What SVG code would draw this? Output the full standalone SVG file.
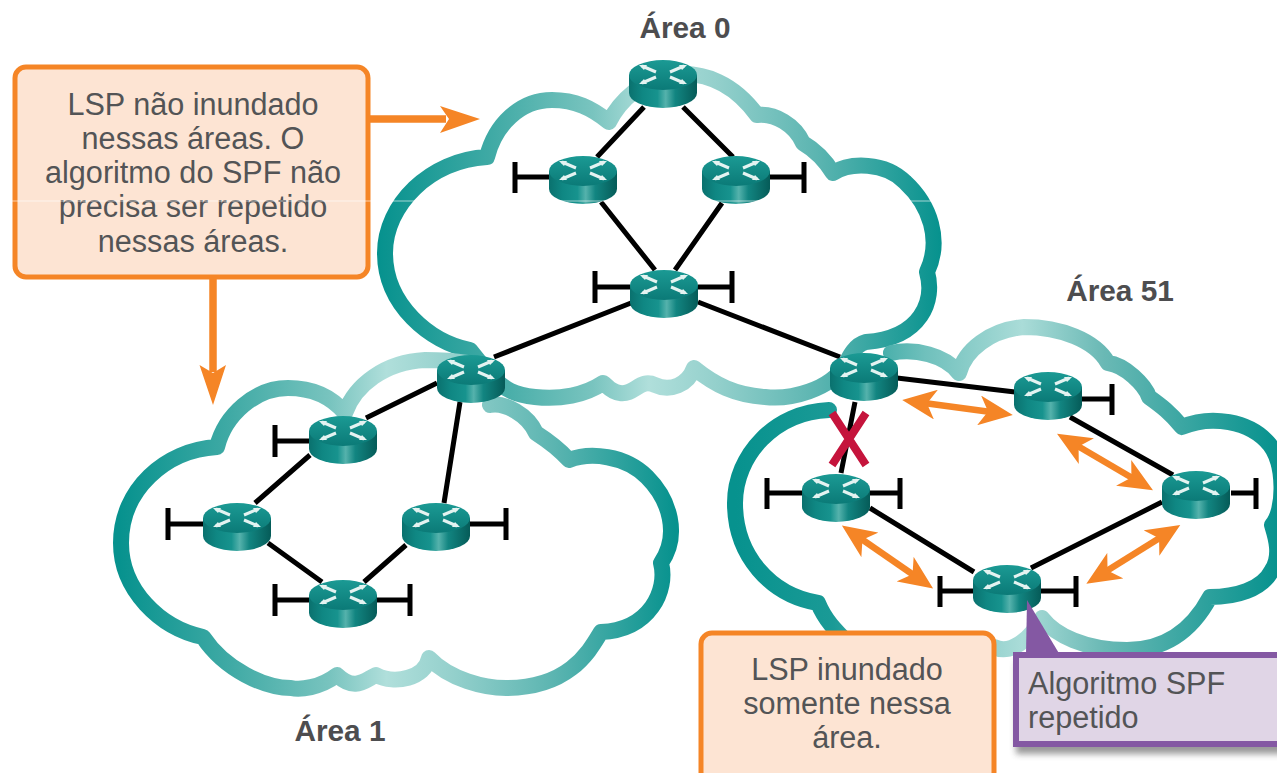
<svg xmlns="http://www.w3.org/2000/svg" xmlns:xlink="http://www.w3.org/1999/xlink" width="1277" height="773" viewBox="0 0 1277 773">
<style>
.cloud{fill:none;stroke-width:16;stroke-linecap:round;stroke-linejoin:round}
.link{stroke:#000;stroke-width:5;fill:none}
.stub{stroke:#000;stroke-width:5;fill:none}
.flood{stroke:#f58526;stroke-width:6.500;fill:none;marker-start:url(#barb);marker-end:url(#barb)}
.big{stroke:#f58526;stroke-width:7.500;fill:none}
.bigh{fill:#f58526}
.t{font-family:"Liberation Sans",Arial,sans-serif;font-size:30.600px;fill:#535456}
.c{text-anchor:middle}
.h{font-family:"Liberation Sans",Arial,sans-serif;font-size:29.800px;font-weight:bold;fill:#4d4d4f;text-anchor:middle}
.box{fill:#fde4d3;stroke:#f58526;stroke-width:5}
</style>
<defs>
<linearGradient id="g0" gradientUnits="userSpaceOnUse" x1="380" y1="0" x2="940" y2="0">
<stop offset="0" stop-color="#07928e"/><stop offset=".2" stop-color="#40aaa5"/><stop offset=".38" stop-color="#79c4bf"/><stop offset=".48" stop-color="#b0dfdb"/><stop offset=".6" stop-color="#94d0cc"/><stop offset=".78" stop-color="#5cb5b1"/><stop offset="1" stop-color="#07928e"/>
</linearGradient>
<linearGradient id="g1" gradientUnits="userSpaceOnUse" x1="120" y1="0" x2="675" y2="0">
<stop offset="0" stop-color="#07928e"/><stop offset=".2" stop-color="#40aaa5"/><stop offset=".38" stop-color="#79c4bf"/><stop offset=".48" stop-color="#b0dfdb"/><stop offset=".6" stop-color="#94d0cc"/><stop offset=".78" stop-color="#5cb5b1"/><stop offset="1" stop-color="#07928e"/>
</linearGradient>
<linearGradient id="g51" gradientUnits="userSpaceOnUse" x1="735" y1="0" x2="1277" y2="0">
<stop offset="0" stop-color="#07928e"/><stop offset=".18" stop-color="#1a9a96"/><stop offset=".35" stop-color="#6fc0bc"/><stop offset=".53" stop-color="#aadcd8"/><stop offset=".68" stop-color="#6ab9b5"/><stop offset=".86" stop-color="#30a29e"/><stop offset="1" stop-color="#07928e"/>
</linearGradient>
<linearGradient id="rb" x1="0" y1="0" x2="1" y2="0">
<stop offset="0" stop-color="#0a716e"/><stop offset=".2" stop-color="#0f8783"/><stop offset=".42" stop-color="#17938e"/><stop offset=".54" stop-color="#55b2ac"/><stop offset=".68" stop-color="#128581"/><stop offset="1" stop-color="#055b58"/>
</linearGradient>
<linearGradient id="rt" x1="0" y1="0" x2="0" y2="1">
<stop offset="0" stop-color="#1b9a94"/><stop offset="1" stop-color="#0b7a77"/>
</linearGradient>
<g id="router">
<path d="M-34 15V33A34 15 0 0 0 34 33V15Z" fill="url(#rb)"/>
<ellipse cx="0" cy="15" rx="34" ry="15" fill="url(#rt)"/>
<path d="M-21 6L-7 12M21 6L7 12M-21 23L-7 17M21 23L7 17" stroke="#e4f3f1" stroke-width="3" fill="none"/>
<path d="M-24 5L-16 5L-19 10ZM24 5L16 5L19 10ZM-24 24L-16 24L-19 19ZM24 24L16 24L19 19Z" fill="#e4f3f1"/>
</g>
<marker id="barb" markerUnits="userSpaceOnUse" markerWidth="34" markerHeight="30" viewBox="0 0 34 30" refX="12" refY="15" orient="auto-start-reverse">
<path d="M0 0L34 15L0 30L9 15Z" fill="#f58526"/>
</marker>
<filter id="sh" x="-10%" y="-20%" width="120%" height="150%"><feGaussianBlur stdDeviation="3"/></filter>
</defs>

<g id="clouds">
<path id="cloud-area-0" class="cloud" stroke="url(#g0)" d="M487 157C495 125 520 100 552 100C575 100 592 108 609 122C620 100 645 78 670 75C705 70 735 85 757 115C775 113 795 125 803 143C815 150 825 160 833 173C850 162 885 162 905 182C930 205 942 240 927 272C935 300 922 338 866 342C855 345 850 355 845 365C830 390 790 400 765 397C735 395 715 385 694 368C688 385 670 392 655 385C640 378 635 395 620 393C610 392 607 385 603 383C585 395 560 400 535 397C515 395 505 390 490 375L470 350C430 342 385 305 385 253C385 205 430 160 487 157Z"/>
<path id="cloud-area-1" class="cloud" stroke="url(#g1)" d="M217 447C225 415 255 388 288 388C310 388 330 395 345 413C355 385 385 362 425 360C440 360 455 361 467 363M490 405C505 402 528 415 536 433C550 442 560 450 569 460C590 452 625 455 647 477C670 500 680 535 661 563C668 590 650 630 601 632C590 650 570 688 506 688C485 688 450 680 429 658C425 678 395 685 376 675C365 680 355 692 337 675C320 688 300 690 291 688C265 688 225 670 203 637C160 628 121 590 121 543C121 490 165 450 217 447"/>
<path id="cloud-area-51" class="cloud" stroke="url(#g51)" d="M829 410C775 412 735 455 735 503C735 555 770 595 818 603C825 620 835 630 850 645M994 647C1010 655 1030 640 1042 618C1055 635 1085 650 1127 650C1170 650 1195 625 1210 597C1235 597 1262 590 1272 570C1282 555 1275 535 1272 525C1285 510 1285 465 1270 445C1250 420 1210 415 1182 427C1170 412 1160 405 1149 397C1145 385 1125 365 1108 363C1095 340 1060 327 1024 327C990 330 965 350 959 373C945 355 915 348 891 353"/>
</g>

<g id="connectors">
<path class="link" d="M644 107L597 157M683 107L733 157M601 202L655 270M722 203L675 270M631 303L494 357M698 302L840 357"/>
<path class="link" d="M437 383L366 418M310 455L255 503M268 543L322 582M364 582L406 545M460 402L444 503"/>
<path class="link" d="M897 378L1015 392M855 402L841 473M870 508L974 572M1031 568L1162 502M1070 417L1173 475"/>
<path class="stub" d="M515 162V193M515 177H549M804 162V193M804 177H770M595 271V303M595 287H630M732 271V303M732 287H698"/>
<path class="stub" d="M275 425V457M275 441H309M168 508V540M168 524H203M506 508V540M506 524H470M275 584V616M275 600H309M410 584V616M410 600H377"/>
<path class="stub" d="M1112 384V415M1112 399H1082M767 478V509M767 493H802M900 478V509M900 493H870M1256 478V509M1256 493H1231M940 576V607M940 591H973M1076 576V607M1076 591H1041"/>
<path class="flood" d="M924 403L991 412"/>
<path class="flood" d="M1076 445L1134 479"/>
<path class="flood" d="M1161.600 536.700L1105 572"/>
<path class="flood" d="M860 538L915 576"/>
<path class="big" d="M369 119H446"/><path class="bigh" d="M440 106L480 119L440 133L449 119Z"/>
<path class="big" d="M213 278V372"/><path class="bigh" d="M199.500 365L213 405L226 365L213 373Z"/>
</g>

<g id="node-r0"><use xlink:href="#router" href="#router" transform="translate(663,60)"/></g>
<g id="node-r1"><use xlink:href="#router" href="#router" transform="translate(583,156)"/></g>
<g id="node-r2"><use xlink:href="#router" href="#router" transform="translate(736,156)"/></g>
<g id="node-r3"><use xlink:href="#router" href="#router" transform="translate(664,270)"/></g>
<g id="node-r4"><use xlink:href="#router" href="#router" transform="translate(471,355)"/></g>
<g id="node-r5"><use xlink:href="#router" href="#router" transform="translate(864,353)"/></g>
<g id="node-r6"><use xlink:href="#router" href="#router" transform="translate(343,416)"/></g>
<g id="node-r7"><use xlink:href="#router" href="#router" transform="translate(237,503)"/></g>
<g id="node-r8"><use xlink:href="#router" href="#router" transform="translate(436,503)"/></g>
<g id="node-r9"><use xlink:href="#router" href="#router" transform="translate(343,580)"/></g>
<g id="node-r10"><use xlink:href="#router" href="#router" transform="translate(1048,372)"/></g>
<g id="node-r11"><use xlink:href="#router" href="#router" transform="translate(836,474)"/></g>
<g id="node-r12"><use xlink:href="#router" href="#router" transform="translate(1196,471)"/></g>
<g id="node-r13"><use xlink:href="#router" href="#router" transform="translate(1007,565)"/></g>

<g id="failure-x"><path d="M832 413L866 465M866 413L832 465" stroke="#c5143c" stroke-width="8" fill="none"/></g>

<g id="note-lsp-not-flooded">
<rect class="box" x="15" y="67" width="353" height="210" rx="11"/>
<text class="t c" x="193" y="115">LSP não inundado</text>
<text class="t c" x="193" y="149">nessas áreas. O</text>
<text class="t c" x="193" y="183">algoritmo do SPF não</text>
<text class="t c" x="193" y="217">precisa ser repetido</text>
<text class="t c" x="193" y="252">nessas áreas.</text>
</g>
<g id="note-lsp-flooded">
<rect class="box" x="701" y="633" width="293" height="150" rx="11"/>
<text class="t c" x="847" y="680">LSP inundado</text>
<text class="t c" x="847" y="714">somente nessa</text>
<text class="t c" x="847" y="748">área.</text>
</g>
<g id="note-spf">
<rect x="1016" y="662" width="280" height="92" fill="#555" opacity=".6" filter="url(#sh)"/>
<path d="M1016 655H1290V744H1016Z" fill="#e0d5e6" stroke="#8458a3" stroke-width="6"/>
<path d="M1027 600L1060 655H1026Z" fill="#8458a3"/>
<text class="t" x="1028" y="694">Algoritmo SPF</text>
<text class="t" x="1028" y="728">repetido</text>
</g>
<g id="labels">
<text class="h" x="685" y="38">Área 0</text>
<text class="h" x="1120" y="301">Área 51</text>
<text class="h" x="340" y="741">Área 1</text>
</g>
<path d="M0 201H1277" stroke="#fff" stroke-width="1" opacity=".6"/>
</svg>
